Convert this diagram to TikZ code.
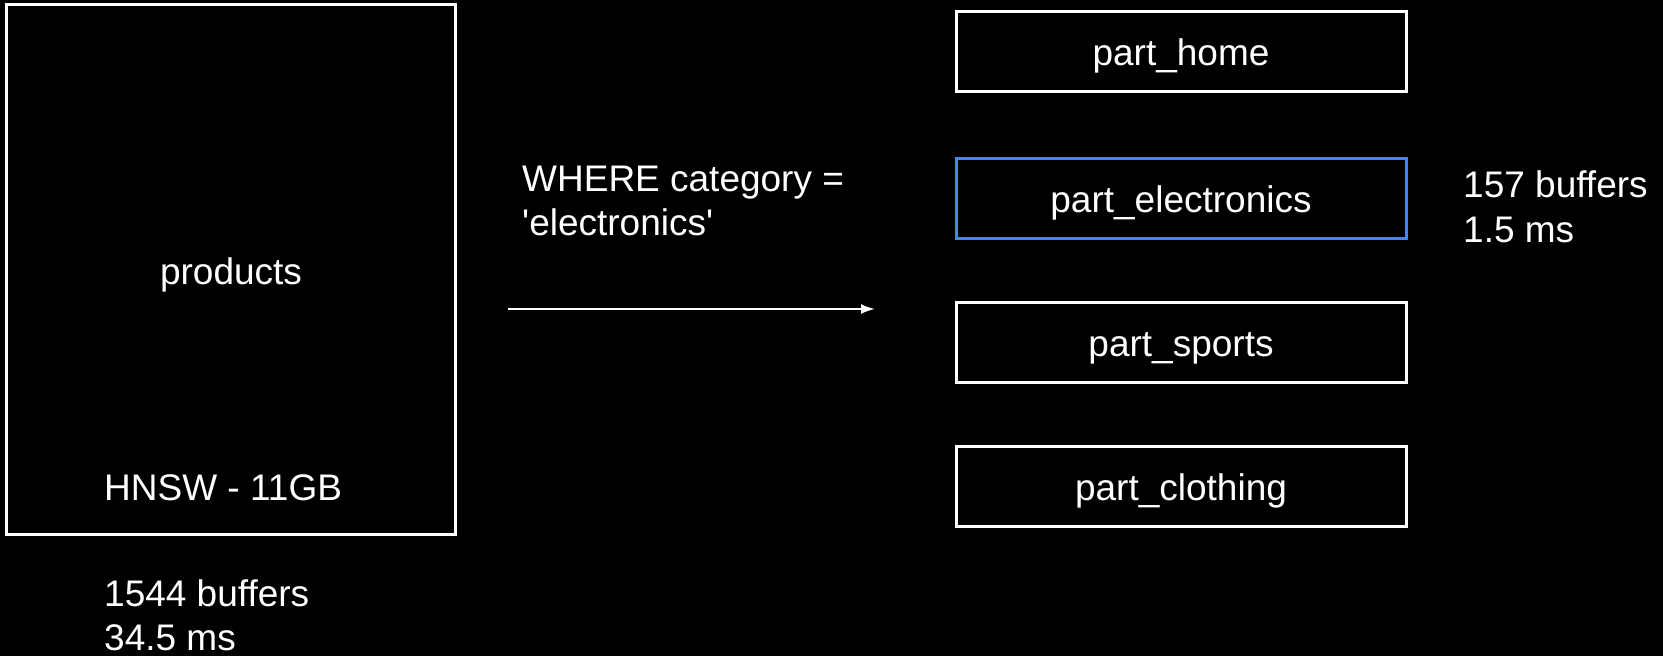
\documentclass[tikz,border=0pt]{standalone}
\usepackage{fontspec}
\setmainfont{Liberation Sans}
\usetikzlibrary{arrows.meta}

\definecolor{accentblue}{RGB}{66,133,244}

\begin{document}
\begin{tikzpicture}[x=1pt,y=-1pt,
  txt/.style={text=white, inner sep=0pt, font=\fontsize{37}{45}\selectfont},
  tablebox/.style={draw=white, line width=3pt, fill=black, inner sep=0pt},
  partbox/.style={tablebox, minimum width=450pt, minimum height=80pt,
    text=white, text height=28pt, text depth=0pt, font=\fontsize{37}{45}\selectfont},
  hot/.style={draw=accentblue},
  flow/.style={draw=white, line width=2pt, -{Latex[length=14pt,width=10pt]}}
]
% page background
\fill[black] (0,0) rectangle (1663,656);

% full table with its single index
\node[tablebox, minimum width=449pt, minimum height=530pt] (products) at (231,269) {};
\node[txt, anchor=base] (prodname) at (231,284) {products};
\node[txt, anchor=base west] (prodidx) at (104,500) {HNSW - 11GB};
\node[txt, anchor=base west] (prodbuf) at (104,606) {1544 buffers};
\node[txt, anchor=base west] (prodms) at (104,650) {34.5 ms};

% filter condition and pruning arrow
\node[txt, anchor=base west] (whereA) at (522,191) {WHERE category =};
\node[txt, anchor=base west] (whereB) at (522,235) {\textquotesingle electronics\textquotesingle};
\coordinate (qs) at (508,309);
\coordinate (qe) at (875,309);
\draw[flow] (qs) -- (qe);

% partitions
\node[partbox] (home) at (1181,51) {part\_home};
\node[partbox, hot] (elec) at (1181,198) {part\_electronics};
\node[partbox] (sports) at (1181,342) {part\_sports};
\node[partbox] (cloth) at (1181,486) {part\_clothing};

% cost of the scanned partition
\node[txt, anchor=base west] (elecbuf) at (1463,197) {157 buffers};
\node[txt, anchor=base west] (elecms) at (1463,242) {1.5 ms};
\end{tikzpicture}
\end{document}
